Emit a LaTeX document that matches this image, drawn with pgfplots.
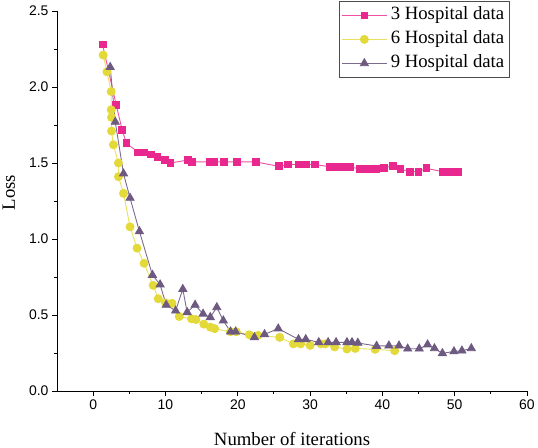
\documentclass[border=0pt]{standalone}
\usepackage{pgfplots}
\pgfplotsset{compat=1.18}
\usepackage{fontspec}
\setmainfont{Liberation Serif}
\newfontfamily\arialfont{Liberation Sans}

\definecolor{hosp3}{HTML}{E8288E}
\definecolor{hosp3line}{HTML}{EE4FA2}
\definecolor{hosp6}{HTML}{E3DA3A}
\definecolor{hosp6line}{HTML}{E8E060}
\definecolor{hosp9}{HTML}{6E5A80}
\definecolor{hosp9line}{HTML}{7C6B8C}

\begin{document}
\begin{tikzpicture}
\begin{axis}[
  scale only axis,
  width=470bp, height=380bp,
  xmin=-5, xmax=60, ymin=0, ymax=2.5,
  clip=false,
  axis x line*=bottom, axis y line*=left,
  axis line style={line width=0.9bp, -},
  xtick={0,10,...,60}, ytick={0,0.5,...,2.5},
  minor x tick num=1, minor y tick num=1,
  tick align=outside,
  major tick length=5bp, minor tick length=3bp,
  tick style={line width=0.9bp, black},
  /pgf/number format/assume math mode=true,
  ticklabel style={font=\fontsize{14}{14}\selectfont\arialfont},
  yticklabel style={/pgf/number format/fixed, /pgf/number format/fixed zerofill, /pgf/number format/precision=1},
  xlabel={Number of iterations},
  label style={font=\fontsize{18.8}{18.8}\selectfont},
  xlabel style={at={([yshift=-54bp]axis description cs:0.5,0)}, anchor=base},
  legend cell align=left,
  legend image code/.code={\draw[mark repeat=2,mark phase=2] plot coordinates {(0bp,0bp) (22.5bp,0bp) (45bp,0bp)};},
  legend style={at={(axis description cs:0.6,1.0263)}, anchor=north west,
    draw=black!70, line width=0.8bp, inner sep=2bp,
    font=\fontsize{18.8}{18.8}\selectfont,
    nodes={inner ysep=3.5bp, inner xsep=3.5bp, text height=13bp, text depth=4bp}},
]
\addplot[hosp3line, line width=0.9bp, mark=square*, mark size=3.4bp,
  mark options={fill=hosp3, draw=hosp3, solid}] coordinates {
(1.3,2.28)(3.2,1.88)(4.0,1.72)(4.6,1.63)(6.25,1.57)(7.1,1.57)(7.96,1.556)(8.9,1.54)
(9.9,1.52)(10.7,1.50)(13.15,1.52)(13.7,1.507)(16.1,1.507)(16.7,1.507)(18.1,1.507)
(19.9,1.507)(22.5,1.507)(25.7,1.478)(26.9,1.49)(28.5,1.49)(29.5,1.49)(30.7,1.49)
(32.8,1.475)(33.7,1.475)(34.2,1.475)(34.9,1.475)(35.5,1.475)(36.9,1.46)(38.0,1.46)
(39.1,1.46)(40.2,1.47)(41.5,1.48)(42.5,1.46)(43.8,1.443)(45.0,1.443)(46.1,1.465)
(48.3,1.443)(49.1,1.439)(49.8,1.439)(50.5,1.439)};
\addlegendentry{3 Hospital data}
\addplot[hosp6line, line width=0.9bp, mark=*, mark size=4bp,
  mark options={fill=hosp6, draw=hosp6, solid}] coordinates {
(1.39,2.21)(1.9,2.10)(2.5,1.97)(2.5,1.85)(2.54,1.80)(2.54,1.71)(2.8,1.62)(3.5,1.50)
(3.5,1.41)(4.2,1.30)(5.1,1.08)(6.07,0.94)(7.04,0.84)(8.3,0.695)(9.0,0.607)(10.0,0.58)
(10.9,0.577)(11.9,0.49)(13.6,0.475)(14.2,0.47)(15.3,0.44)(16.2,0.42)(16.8,0.41)
(19.0,0.39)(19.8,0.39)(21.6,0.37)(22.8,0.366)(25.8,0.353)(27.7,0.31)(28.7,0.31)
(30.0,0.30)(31.5,0.31)(32.1,0.31)(33.4,0.29)(35.1,0.276)(36.25,0.28)(39.0,0.274)
(41.7,0.265)};
\addlegendentry{6 Hospital data}
\addplot[hosp9line, line width=0.9bp, mark=triangle*, mark size=4.6bp,
  mark options={fill=hosp9, draw=hosp9, solid}] coordinates {
(2.36,2.13)(3.06,1.77)(4.2,1.43)(5.1,1.27)(6.4,1.05)(8.2,0.763)(9.26,0.70)(10.1,0.566)
(11.4,0.528)(12.4,0.67)(13.0,0.518)(14.1,0.566)(15.2,0.507)(16.2,0.485)(17.1,0.55)
(18.0,0.463)(19.0,0.39)(19.7,0.39)(22.3,0.353)(23.7,0.373)(25.6,0.41)(28.4,0.34)
(29.4,0.34)(31.2,0.32)(32.5,0.32)(33.6,0.32)(35.1,0.32)(35.8,0.32)(36.6,0.316)
(39.2,0.296)(40.9,0.298)(42.3,0.298)(43.5,0.278)(45.1,0.278)(46.25,0.305)(47.2,0.28)
(48.3,0.248)(49.9,0.26)(51.0,0.265)(52.3,0.28)};
\addlegendentry{9 Hospital data}
\node[rotate=90, anchor=base, font=\fontsize{18.8}{18.8}\selectfont]
  at ([xshift=-42bp]axis description cs:0,0.522) {Loss};
\end{axis}
\pgfresetboundingbox
\path ([shift={(-57bp,-57bp)}]current axis.south west) rectangle ([shift={(11bp,11bp)}]current axis.north east);
\end{tikzpicture}
\end{document}
